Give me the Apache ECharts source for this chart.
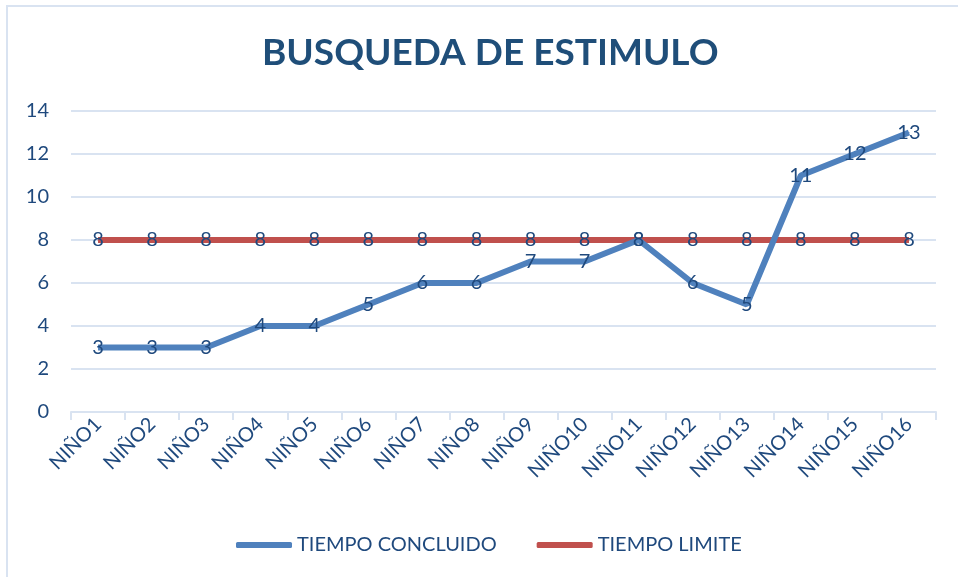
<!DOCTYPE html>
<html lang="es">
<head>
    <meta charset="UTF-8">
    <title>BUSQUEDA DE ESTIMULO</title>
    <script src="https://cdn.jsdelivr.net/npm/echarts@6/dist/echarts.min.js"></script>
    <style>
        html, body { margin: 0; padding: 0; background: #fff; }
    </style>
</head>
<body>
<div id="main" style="width: 958px;height: 577px"></div>
<script>
    var ninos = ["NIÑO1", "NIÑO2", "NIÑO3", "NIÑO4", "NIÑO5", "NIÑO6", "NIÑO7", "NIÑO8",
        "NIÑO9", "NIÑO10", "NIÑO11", "NIÑO12", "NIÑO13", "NIÑO14", "NIÑO15", "NIÑO16"];
    var tiempoConcluido = [3, 3, 3, 4, 4, 5, 6, 6, 7, 7, 8, 6, 5, 11, 12, 13];
    var tiempoLimite = [8, 8, 8, 8, 8, 8, 8, 8, 8, 8, 8, 8, 8, 8, 8, 8];

    var textColor = "#1F497D";
    var font = "Lato, 'Open Sans', sans-serif";

    var MyChart = echarts.init(document.getElementById("main"));
    var option = {
        animation: false,
        textStyle: { fontFamily: font },
        graphic: [{
            type: "rect",
            shape: { x: 7, y: 6, width: 980, height: 620 },
            style: { fill: "none", stroke: "#D9E3F1", lineWidth: 2 },
            silent: true
        }, {
            type: "text",
            left: 262,
            top: 35,
            style: {
                text: "BUSQUEDA DE ESTIMULO",
                fill: "#1F4E79",
                font: "bold 37px Lato, 'Open Sans', sans-serif"
            }
        }],
        legend: {
            bottom: 17,
            left: 231,
            itemWidth: 56,
            itemHeight: 6,
            itemGap: 40,
            icon: "roundRect",
            textStyle: { color: textColor, fontSize: 20, fontFamily: font },
            data: ["TIEMPO CONCLUIDO", "TIEMPO LIMITE"]
        },
        grid: { left: 71, right: 22, top: 111, bottom: 165 },
        xAxis: {
            type: "category",
            boundaryGap: true,
            data: ninos,
            axisLine: { lineStyle: { color: "#D9E3F1", width: 2 } },
            axisTick: { show: true, length: 8, lineStyle: { color: "#D9E3F1", width: 2 } },
            axisLabel: { rotate: 45, color: textColor, fontSize: 20, margin: 9, fontFamily: font, interval: 0 }
        },
        yAxis: {
            type: "value",
            min: 0,
            max: 14,
            interval: 2,
            axisLine: { show: false },
            axisTick: { show: false },
            axisLabel: { color: textColor, fontSize: 20, margin: 22, fontFamily: font },
            splitLine: { lineStyle: { color: "#D9E3F1", width: 2 } }
        },
        series: [{
            name: "TIEMPO CONCLUIDO",
            type: "line",
            data: tiempoConcluido,
            symbol: "circle",
            symbolSize: 1,
            showAllSymbol: true,
            color: "#4F81BD",
            lineStyle: { width: 6, color: "#4F81BD" },
            label: { show: true, position: "inside", color: textColor, fontSize: 20, fontFamily: font },
            z: 3
        }, {
            name: "TIEMPO LIMITE",
            type: "line",
            data: tiempoLimite,
            symbol: "circle",
            symbolSize: 1,
            showAllSymbol: true,
            color: "#C0504D",
            lineStyle: { width: 6, color: "#C0504D" },
            label: { show: true, position: "inside", color: textColor, fontSize: 20, fontFamily: font },
            z: 2
        }]
    };
    MyChart.setOption(option);
</script>
</body>
</html>
